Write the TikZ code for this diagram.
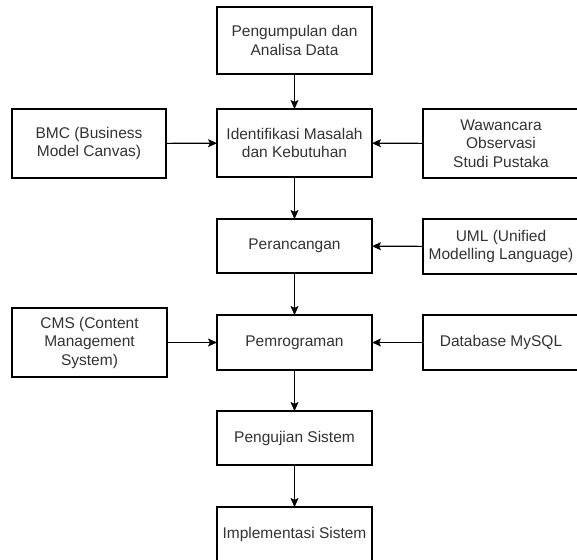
\documentclass[tikz,border=0pt]{standalone}
\usepackage{fontspec}
\setmainfont{Liberation Sans}
\usetikzlibrary{arrows.meta}
\definecolor{txt}{HTML}{333333}
\tikzset{
  box/.style={draw=black, line width=1.1pt, fill=white, inner sep=0pt, outer sep=0pt,
    align=center, text=txt, font=\fontsize{15.5}{18.5}\selectfont},
  flow/.style={draw=black, line width=1.1pt, -{Stealth[length=9pt,width=8pt,inset=2pt]}}
}
\begin{document}
\begin{tikzpicture}[x=1pt,y=-1pt]
  \useasboundingbox (0,0) rectangle (577,559);
  \clip (0,0) rectangle (577,559);
  % main column
  \node[box, minimum width=155pt, minimum height=67pt] (p1) at (294.5,40.5) {Pengumpulan dan\\Analisa Data};
  \node[box, minimum width=155pt, minimum height=68pt] (p2) at (294.5,143) {Identifikasi Masalah\\dan Kebutuhan};
  \node[box, minimum width=155pt, minimum height=54pt] (p3) at (294.5,246) {Perancangan};
  \node[box, minimum width=155pt, minimum height=55pt] (p4) at (294.5,342.5) {Pemrograman};
  \node[box, minimum width=155pt, minimum height=54pt] (p5) at (294.5,438) {Pengujian Sistem};
  \node[box, minimum width=155pt, minimum height=54pt] (p6) at (294.5,534) {Implementasi Sistem};
  % side inputs
  \node[box, minimum width=154pt, minimum height=69pt] (bmc) at (89,143.5) {BMC (Business\\Model Canvas)};
  \node[box, minimum width=156pt, minimum height=69pt] (waw) at (501,143.5) {Wawancara\\Observasi\\Studi Pustaka};
  \node[box, minimum width=156pt, minimum height=55pt] (uml) at (501,246.5) {UML (Unified\\Modelling Language)};
  \node[box, minimum width=155pt, minimum height=69pt] (cms) at (89.5,342.5) {CMS (Content\\Management\\System)};
  \node[box, minimum width=156pt, minimum height=55pt] (db) at (501,342.5) {Database MySQL};
  % connectors
  \draw[flow] (p1) -- (p2);
  \draw[flow] (p2) -- (p3);
  \draw[flow] (p3) -- (p4);
  \draw[flow] (p4) -- (p5);
  \draw[flow] (p5) -- (p6);
  \draw[flow] (bmc) -- (p2);
  \draw[flow] (waw) -- (p2);
  \draw[flow] (uml) -- (p3);
  \draw[flow] (cms) -- (p4);
  \draw[flow] (db) -- (p4);
\end{tikzpicture}
\end{document}
